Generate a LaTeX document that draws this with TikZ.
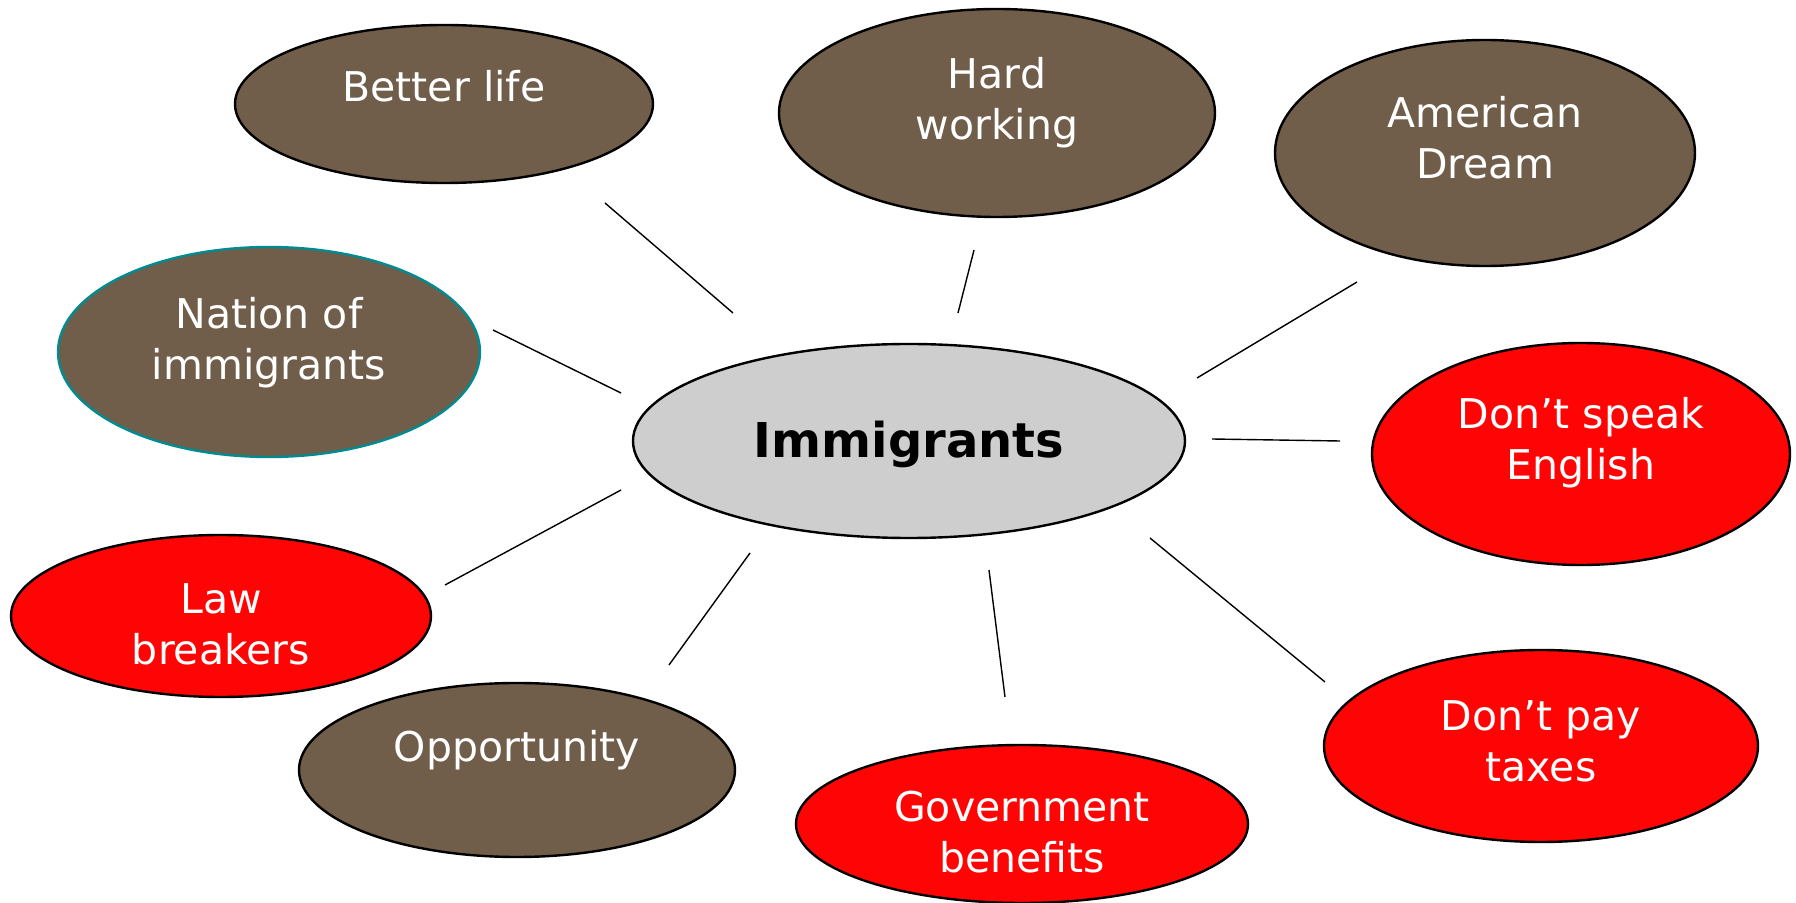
\documentclass[tikz,border=0pt]{standalone}
\usepackage{fontspec}
\setmainfont{DejaVu Sans}
\usetikzlibrary{shapes.geometric}
\definecolor{Bubble-brown}{RGB}{112,94,74}
\definecolor{Bubble-red}{RGB}{255,4,4}
\definecolor{Bubble-gray}{RGB}{206,206,206}
\definecolor{Bubble-teal}{RGB}{0,139,145}

\tikzset{
  bubble/.style={ellipse, draw=black, line width=1.2pt, inner sep=0pt},
  bubble text/.style={text=white, font=\fontsize{20.5}{25.5}\selectfont, align=center},
  spoke/.style={draw=black, line width=0.7pt}
}

\begin{document}
\begin{tikzpicture}[x=0.5pt, y=-0.5pt]
      \useasboundingbox (0,0) rectangle (1796,903);

      \node[bubble, fill=Bubble-gray,  minimum width=276pt, minimum height=97pt,  label={[text=black, font=\fontsize{24}{28}\bfseries, yshift=-1.5pt]center:Immigrants}] (imm) at ( 909, 441) {};

      \node[bubble, fill=Bubble-brown, minimum width=209pt, minimum height=79pt,  label={[bubble text, yshift=9pt  ]center:Better life}]             (better)   at ( 444, 104) {};
      \node[bubble, fill=Bubble-brown, minimum width=218pt, minimum height=104pt, label={[bubble text, yshift=5pt  ]center:Hard\\working}]           (hard)     at ( 997, 113) {};
      \node[bubble, fill=Bubble-brown, minimum width=210pt, minimum height=113pt, label={[bubble text, yshift=7.5pt]center:American\\Dream}]        (dream)    at (1485, 153) {};
      \node[bubble, fill=Bubble-brown, draw=Bubble-teal, minimum width=211pt, minimum height=105pt, label={[bubble text, yshift=4.5pt]center:Nation of\\immigrants}] (nation) at ( 269, 352) {};
      \node[bubble, fill=Bubble-brown, minimum width=218pt, minimum height=87pt,  label={[bubble text, yshift=10pt ]center:Opportunity}]             (opp)      at ( 517, 770) {};

      \node[bubble, fill=Bubble-red,   minimum width=209pt, minimum height=111pt, label={[bubble text, yshift=5.5pt]center:Don't speak\\English}]   (english)  at (1581, 454) {};
      \node[bubble, fill=Bubble-red,   minimum width=210pt, minimum height=81pt,  label={[bubble text, yshift=-4pt ]center:Law\\breakers}]          (law)      at ( 221, 616) {};
      \node[bubble, fill=Bubble-red,   minimum width=226pt, minimum height=79pt,  label={[bubble text, yshift=-4pt ]center:Government\\benefits}]   (gov)      at (1022, 824) {};
      \node[bubble, fill=Bubble-red,   minimum width=217pt, minimum height=96pt,  label={[bubble text, yshift=2.5pt]center:Don't pay\\taxes}]       (taxes)    at (1541, 746) {};

      % spoke ends
      \coordinate (better-end)  at ( 605, 203); \coordinate (better-hub)  at ( 733, 313);
      \coordinate (hard-end)    at ( 974, 250); \coordinate (hard-hub)    at ( 958, 313);
      \coordinate (dream-end)   at (1357, 282); \coordinate (dream-hub)   at (1197, 378);
      \coordinate (nation-end)  at ( 493, 330); \coordinate (nation-hub)  at ( 621, 393);
      \coordinate (english-end) at (1340, 441); \coordinate (english-hub) at (1212, 439);
      \coordinate (law-end)     at ( 445, 585); \coordinate (law-hub)     at ( 621, 490);
      \coordinate (opp-end)     at ( 669, 665); \coordinate (opp-hub)     at ( 750, 553);
      \coordinate (gov-end)     at (1005, 697); \coordinate (gov-hub)     at ( 989, 570);
      \coordinate (taxes-end)   at (1325, 682); \coordinate (taxes-hub)   at (1150, 538);

      \draw[spoke] (better-hub)  -- (better-end);
      \draw[spoke] (hard-hub)    -- (hard-end);
      \draw[spoke] (dream-hub)   -- (dream-end);
      \draw[spoke] (nation-hub)  -- (nation-end);
      \draw[spoke] (english-hub) -- (english-end);
      \draw[spoke] (law-hub)     -- (law-end);
      \draw[spoke] (opp-hub)     -- (opp-end);
      \draw[spoke] (gov-hub)     -- (gov-end);
      \draw[spoke] (taxes-hub)   -- (taxes-end);
    \end{tikzpicture}
\end{document}
